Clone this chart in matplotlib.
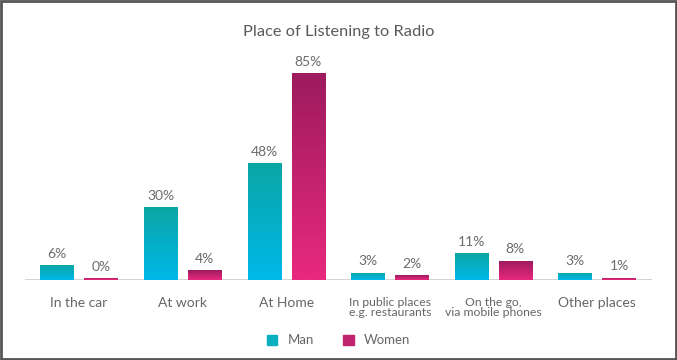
import matplotlib
matplotlib.use("Agg")
import matplotlib.pyplot as plt
import numpy as np
from matplotlib.colors import LinearSegmentedColormap
from matplotlib.patches import Rectangle

categories = ["In the car", "At work", "At Home", "In public places\ne.g. restaurants",
              "On the go,\nvia mobile phones", "Other places"]
man = [6, 30, 48, 3, 11, 3]
women = [0, 4, 85, 2, 8, 1]
series_names = ["Man", "Women"]

plt.rcParams['font.family'] = ['Lato', 'DejaVu Sans']

fig = plt.figure(figsize=(6.77, 3.6), dpi=100)
ax = fig.add_axes([0.037, 0.222, 0.926, 0.611])

man_cmap = LinearSegmentedColormap.from_list("m", ["#00b8ea", "#0aa6a4"])
wom_cmap = LinearSegmentedColormap.from_list("w", ["#e8297d", "#9d1b5e"])

x = np.arange(len(categories))
w = 0.32
off = 0.212

def grad_bars(xs, vals, cmap, color):
    bars = ax.bar(xs, vals, width=w, color=color, zorder=4)
    for b, v in zip(bars, vals):
        h = max(b.get_height(), 0.0)
        b.set_facecolor("none")
        b.set_edgecolor("none")
        grad = np.linspace(0, 1, 100).reshape(-1, 1)
        im = ax.imshow(grad, cmap=cmap, origin="lower", aspect="auto",
                       extent=[b.get_x(), b.get_x() + b.get_width(), 0, h], zorder=4)
        im.set_clip_path(b)
    return bars

grad_bars(x - off, man, man_cmap, "#0ab0c8")
wvals_draw = [v if v > 0 else 0.9 for v in women]
grad_bars(x + off, wvals_draw, wom_cmap, "#c0246e")

for xi, v in zip(x - off, man):
    ax.text(xi, v + 2.2, f"{v}%", ha="center", va="bottom", fontsize=10, color="#6b6b6b")
for xi, v, vd in zip(x + off, women, wvals_draw):
    ax.text(xi, vd + 2.2, f"{v}%", ha="center", va="bottom", fontsize=10, color="#6b6b6b")

ax.set_xlim(-0.52, 5.53)
ax.set_ylim(0, 90.5)
ax.axhline(0, color="#cfcfcf", lw=2, zorder=3)
for s in ax.spines.values():
    s.set_visible(False)
ax.set_yticks([])
ax.set_xticks(x)
labels = ax.set_xticklabels(categories, color="#666666", linespacing=0.9)
for lab, cat in zip(labels, categories):
    lab.set_fontsize(8.8 if "\n" in cat else 10)
ax.tick_params(axis="x", length=0, pad=12)

fig.text(0.5, 0.91, "Place of Listening to Radio", ha="center", va="center",
         fontsize=11.8, color="#5a5a5a")

lh = [Rectangle((0, 0), 1, 1, color="#0ab0c0"), Rectangle((0, 0), 1, 1, color="#c0246e")]
fig.legend(lh, series_names, loc="center", bbox_to_anchor=(0.5, 0.055), ncol=2,
           frameon=False, fontsize=9.5, handlelength=0.8, handleheight=0.8,
           columnspacing=2.2, labelcolor="#666666")

fig.patches.append(Rectangle((0.002, 0.003), 0.996, 0.994, transform=fig.transFigure,
                             fill=False, edgecolor="#555555", lw=2))

fig.savefig("out.png", dpi=100)
